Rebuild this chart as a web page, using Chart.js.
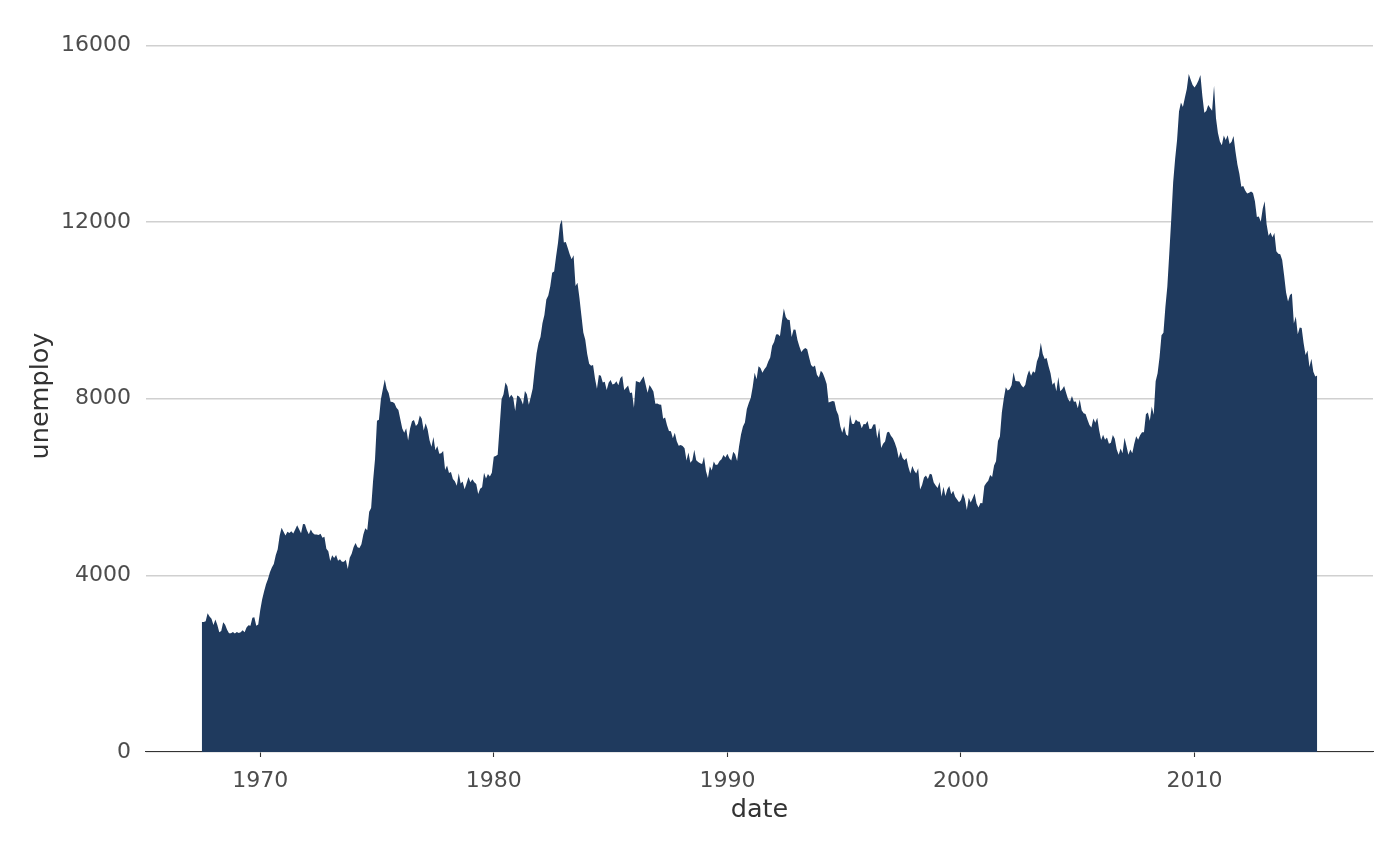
<!DOCTYPE html>
<html>
<head>
<meta charset="utf-8">
<script src="https://cdn.jsdelivr.net/npm/chart.js@4"></script>
<style>
html,body{margin:0;padding:0;background:#fff;}
canvas{display:block;}
</style>
</head>
<body>
<canvas id="c" width="1400" height="866"></canvas>
<script>
// monthly series starting July 1967
const startYear = 1967;
const startMonth = 7;
const unemploy = [
 2944,2945,2958,3143,3066,3018,
 2878,3001,2877,2709,2740,2938,2883,2768,2686,2689,2715,2685,
 2718,2692,2712,2758,2713,2816,2868,2856,3040,3049,2856,2884,
 3201,3453,3635,3797,3919,4071,4175,4256,4456,4591,4898,5076,
 4986,4903,4987,4959,4996,4949,5035,5134,5042,4954,5161,5154,
 5019,4928,5038,4959,4922,4923,4913,4939,4849,4875,4602,4543,
 4326,4452,4394,4459,4329,4363,4305,4305,4350,4144,4396,4489,
 4644,4731,4634,4618,4705,4927,5063,5022,5437,5523,6140,6636,
 7501,7520,7978,8210,8433,8220,8127,7928,7923,7897,7794,7744,
 7534,7326,7230,7330,7053,7322,7490,7518,7380,7430,7620,7545,
 7280,7443,7307,7059,6911,7134,6829,6925,6751,6763,6815,6386,
 6489,6318,6337,6180,6127,6028,6309,6080,6125,5947,6077,6228,
 6109,6173,6109,6069,5840,5959,5996,6320,6190,6296,6238,6325,
 6683,6702,6729,7358,7984,8098,8363,8281,8021,8088,8023,7718,
 8071,8051,7982,7869,8174,8098,7863,8036,8230,8646,9029,9267,
 9397,9705,9895,10244,10335,10538,10849,10881,11217,11529,11938,12051,
 11534,11545,11408,11268,11154,11246,10548,10623,10282,9887,9499,9331,
 9008,8791,8746,8762,8456,8226,8537,8519,8367,8381,8198,8358,
 8423,8321,8339,8395,8302,8460,8513,8196,8248,8298,8128,8138,
 7795,8402,8383,8364,8439,8508,8319,8135,8310,8243,8159,7883,
 7892,7865,7862,7542,7574,7398,7268,7261,7102,7227,7035,6936,
 6953,6929,6876,6601,6779,6546,6605,6843,6604,6568,6537,6518,
 6682,6359,6205,6468,6375,6577,6495,6511,6590,6630,6725,6667,
 6752,6651,6598,6797,6742,6590,6922,7188,7368,7459,7764,7901,
 8015,8265,8586,8439,8736,8692,8586,8666,8722,8842,8931,9198,
 9283,9454,9460,9415,9744,10040,9850,9787,9781,9398,9565,9557,
 9325,9183,9056,9110,9149,9121,8930,8763,8714,8750,8542,8477,
 8630,8583,8470,8331,7915,7927,7946,7933,7734,7632,7375,7230,
 7375,7187,7153,7645,7430,7427,7527,7484,7478,7328,7426,7423,
 7491,7313,7318,7415,7423,7095,7337,6882,6979,7031,7236,7253,
 7158,7102,7000,6873,6655,6799,6655,6608,6656,6454,6308,6476,
 6368,6306,6422,5941,6047,6212,6259,6179,6300,6280,6100,6032,
 5976,6111,5783,6004,5796,5951,6025,5838,5915,5778,5716,5653,
 5708,5858,5733,5481,5758,5651,5747,5853,5625,5534,5639,5634,
 6023,6089,6141,6271,6226,6484,6583,7042,7142,7694,8003,8258,
 8182,8215,8304,8599,8399,8393,8390,8304,8251,8307,8520,8640,
 8520,8618,8588,8842,8957,9266,9011,8896,8921,8732,8576,8317,
 8370,8167,8491,8170,8212,8286,8136,7990,7927,8061,7932,7934,
 7784,7980,7737,7672,7651,7524,7406,7345,7553,7453,7566,7279,
 7064,7184,7072,7120,6980,7001,7175,7091,6847,6727,6872,6762,
 7116,6927,6731,6850,6766,6979,7149,7067,7170,7237,7240,7645,
 7685,7497,7822,7637,8395,8575,8937,9438,9494,10074,10538,11286,
 12058,12898,13426,13853,14499,14707,14601,14814,15009,15352,15219,15098,
 15046,15113,15202,15325,14849,14474,14512,14648,14579,14516,15081,14348,
 14013,13820,13737,13957,13855,13962,13763,13818,13948,13594,13302,13093,
 12797,12813,12713,12646,12660,12692,12656,12471,12115,12124,12005,12298,
 12471,11950,11689,11760,11654,11751,11335,11279,11270,11136,10787,10404,
 10202,10349,10380,9702,9859,9460,9608,9599,9262,8990,9090,8717,
 8903,8610,8504,8526
];
const xTicks = [1970, 1980, 1990, 2000, 2010];
const yTicks = [0, 4000, 8000, 12000, 16000];

const points = unemploy.map((v, i) => ({ x: startYear + (startMonth - 1 + i) / 12, y: v }));
const xFirst = points[0].x, xLast = points[points.length - 1].x;
const xPad = (xLast - xFirst) * 0.05;
const yMax = Math.max(...unemploy) * 1.05;

const tickFont = { family: 'DejaVu Sans', size: 22 };
const titleFont = { family: 'DejaVu Sans', size: 25.5 };

new Chart(document.getElementById('c'), {
  type: 'line',
  data: {
    datasets: [{
      data: points,
      fill: 'origin',
      backgroundColor: '#1f3a5e',
      borderWidth: 0,
      borderColor: 'rgba(0,0,0,0)',
      pointRadius: 0,
      tension: 0
    }]
  },
  options: {
    responsive: false,
    animation: false,
    devicePixelRatio: 1,
    layout: { padding: { left: 26, right: 27, top: 40, bottom: 40 } },
    plugins: { legend: { display: false }, tooltip: { enabled: false } },
    scales: {
      x: {
        type: 'linear',
        z: 1,
        min: xFirst - xPad,
        max: xLast + xPad,
        afterBuildTicks: s => { s.ticks = xTicks.map(v => ({ value: v })); },
        afterFit: s => { s.height = 74; },
        ticks: { font: tickFont, color: '#4d4d4d', padding: 11, maxRotation: 0, callback: v => String(v) },
        grid: { drawOnChartArea: false, drawTicks: true, tickLength: 5, tickColor: '#333333', tickWidth: 1.1 },
        border: { display: true, color: '#333333', width: 1.1 },
        title: { display: true, text: 'date', font: titleFont, color: '#333333', padding: 0 }
      },
      y: {
        min: 0,
        max: yMax,
        afterBuildTicks: s => { s.ticks = yTicks.map(v => ({ value: v })); },
        afterFit: s => { s.width = 120; },
        ticks: { font: tickFont, color: '#4d4d4d', padding: 15, callback: v => String(v) },
        grid: { color: '#d0d0d0', lineWidth: 1.5, drawTicks: false },
        border: { display: false },
        title: { display: true, text: 'unemploy', font: titleFont, color: '#333333', padding: 0 }
      }
    }
  }
});
</script>
</body>
</html>
